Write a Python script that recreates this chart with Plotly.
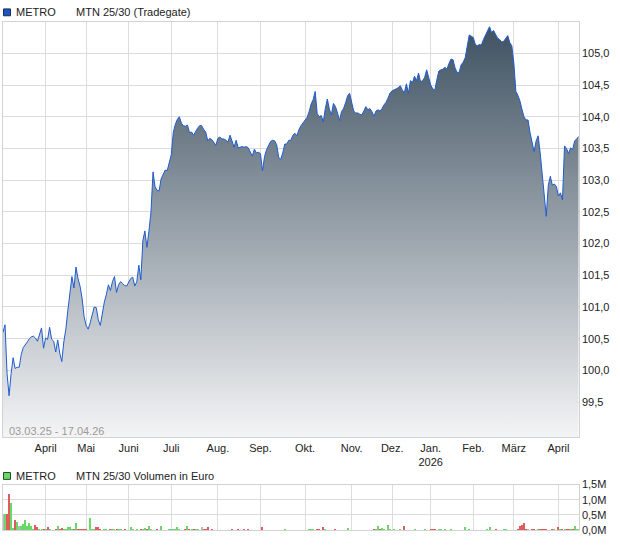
import pandas as pd
import plotly.graph_objects as go

# ---------------- data ----------------
start_date = "2025-03-03"
end_date = "2026-04-17"
holidays = ["2025-04-18", "2025-04-21", "2025-05-01", "2025-12-24", "2025-12-25",
            "2025-12-26", "2025-12-31", "2026-01-01", "2026-04-03", "2026-04-06"]

prices = [
    100.60, 100.72, 99.95, 99.60, 99.95, 100.20, 100.03, 100.05, 100.05, 100.25,
    100.36, 100.40, 100.45, 100.50, 100.53, 100.54, 100.51, 100.46, 100.58, 100.67,
    100.35, 100.51, 100.49, 100.68, 100.49, 100.46, 100.29, 100.48, 100.27, 100.14,
    100.45, 100.65, 100.95, 101.20, 101.48, 101.30, 101.63, 101.45, 101.33, 101.14,
    100.85, 100.71, 100.65, 100.75, 100.90, 101.00, 100.99, 100.80, 100.71, 100.90,
    101.08, 101.20, 101.35, 101.26, 101.40, 101.48, 101.23, 101.35, 101.40, 101.37,
    101.34, 101.33, 101.39, 101.45, 101.47, 101.33, 101.40, 101.66, 101.43, 102.05,
    102.20, 101.94, 102.20, 102.50, 103.13, 102.90, 102.84, 102.83, 103.02, 103.10,
    103.16, 103.15, 103.26, 103.40, 103.75, 103.88, 103.96, 104.00, 103.90, 103.86,
    103.85, 103.87, 103.75, 103.76, 103.71, 103.77, 103.82, 103.86, 103.86, 103.80,
    103.76, 103.62, 103.66, 103.64, 103.60, 103.55, 103.66, 103.68, 103.65, 103.65,
    103.63, 103.60, 103.71, 103.60, 103.52, 103.63, 103.51, 103.52, 103.53, 103.52,
    103.53, 103.51, 103.43, 103.38, 103.49, 103.43, 103.44, 103.42, 103.15, 103.37,
    103.48, 103.55, 103.61, 103.63, 103.62, 103.56, 103.36, 103.33, 103.43, 103.57,
    103.57, 103.63, 103.63, 103.71, 103.74, 103.70, 103.80, 103.86, 103.90, 103.95,
    103.99, 104.08, 104.20, 104.27, 104.40, 104.05, 104.00, 104.02, 103.92, 104.13,
    104.28, 104.12, 104.03, 104.21, 104.16, 104.06, 103.94, 104.08, 104.13, 104.22,
    104.33, 104.37, 104.22, 104.09, 104.06, 104.06, 104.04, 104.03, 104.09, 104.16,
    104.11, 104.13, 104.08, 104.01, 104.09, 104.11, 104.09, 104.13, 104.19, 104.23,
    104.30, 104.38, 104.41, 104.42, 104.44, 104.46, 104.49, 104.42, 104.38, 104.52,
    104.37, 104.57, 104.54, 104.64, 104.57, 104.69, 104.55, 104.57, 104.62, 104.74,
    104.61, 104.50, 104.44, 104.42, 104.58, 104.72, 104.74, 104.75, 104.78, 104.75,
    104.84, 104.91, 104.90, 104.77, 104.70, 104.70, 104.82, 104.86, 104.93, 105.15,
    105.29, 105.27, 105.25, 105.14, 105.12, 105.14, 105.13, 105.22, 105.28, 105.35,
    105.42, 105.33, 105.36, 105.30, 105.24, 105.22, 105.18, 105.19, 105.24, 105.28,
    105.17, 105.12, 104.85, 104.40, 104.34, 104.25, 104.12, 104.00, 103.95, 103.95,
    103.75, 103.58, 103.45, 103.62, 103.70, 103.43, 103.10, 102.80, 102.43, 102.92,
    103.06, 102.92, 102.94, 102.90, 102.75, 102.80, 102.69, 103.54, 103.50, 103.42,
    103.51, 103.48, 103.62, 103.65, 103.69,
]

# traded volume in thousand euro
volumes_k = [
    540, 540, 540, 1220, 920, 100, 350, 280, 140, 170,
    210, 350, 140, 250, 170, 60, 190, 110, 60, 30,
    50, 60, 130, 30, 20, 20, 50, 140, 30, 90,
    30, 50, 130, 130, 40, 50, 250, 60, 60, 30,
    30, 30, 0, 430, 40, 70, 110, 110, 40, 0,
    60, 50, 0, 50, 60, 50, 40, 30, 40, 20,
    30, 0, 0, 110, 30, 20, 30, 0, 60, 30,
    90, 30, 160, 60, 20, 0, 40, 0, 150, 0,
    20, 0, 60, 30, 40, 40, 110, 30, 20, 0,
    40, 160, 40, 30, 60, 60, 50, 0, 110, 30,
    30, 110, 0, 30, 20, 0, 20, 0, 0, 20,
    20, 0, 10, 60, 0, 20, 30, 0, 10, 60,
    0, 30, 10, 0, 20, 10, 0, 0, 130, 10,
    0, 20, 10, 0, 10, 20, 0, 10, 0, 60,
    10, 0, 20, 10, 0, 20, 10, 0, 10, 20,
    0, 30, 30, 40, 0, 40, 30, 0, 110, 40,
    0, 10, 20, 0, 30, 20, 0, 0, 10, 20,
    80, 0, 10, 0, 20, 0, 10, 20, 0, 0,
    10, 0, 0, 30, 50, 140, 30, 90, 50, 0,
    180, 40, 0, 40, 20, 20, 40, 0, 140, 20,
    0, 20, 0, 70, 0, 20, 0, 20, 40, 0,
    0, 40, 40, 40, 0, 40, 30, 20, 30, 20,
    0, 30, 0, 20, 0, 20, 0, 0, 120, 0,
    40, 20, 0, 20, 0, 10, 0, 10, 20, 30,
    110, 0, 20, 30, 20, 0, 10, 60, 60, 0,
    20, 20, 0, 10, 40, 140, 190, 240, 60, 40,
    10, 40, 30, 20, 40, 40, 40, 50, 50, 0,
    20, 30, 30, 0, 130, 50, 40, 40, 40, 30,
    30, 30, 150, 40, 60,
]

month_labels = ["April", "Mai", "Juni", "Juli", "Aug.", "Sep.", "Okt.", "Nov.",
                "Dez.", "Jan.<br>2026", "Feb.", "März", "April"]
price_ticks = [99.5, 100.0, 100.5, 101.0, 101.5, 102.0, 102.5, 103.0, 103.5, 104.0, 104.5, 105.0]
volume_ticks = [0.0, 0.5, 1.0, 1.5]
period_text = "03.03.25 - 17.04.26"

# ---------------- derived ----------------
dates = [d for d in pd.bdate_range(start_date, end_date)
         if d.strftime("%Y-%m-%d") not in holidays]
assert len(dates) == len(prices) == len(volumes_k)

tick_dates = []
seen = {(dates[0].year, dates[0].month)}
for d in dates:
    key = (d.year, d.month)
    if key not in seen:
        seen.add(key)
        tick_dates.append(d)

price_ticktext = [f"{v:.1f}".replace(".", ",") for v in price_ticks]
volume_ticktext = [f"{v:.1f}".replace(".", ",") + "M" for v in volume_ticks]

vol_m = [v / 1000.0 for v in volumes_k]
bar_colors = []
for i, p in enumerate(prices):
    if i == 0 or p == prices[i - 1]:
        bar_colors.append("#b8b8b8")
    elif p > prices[i - 1]:
        bar_colors.append("#66d966")
    else:
        bar_colors.append("#e05c5c")

W, H = 620, 546
def px(x):
    return x / W
def py(y):
    return 1 - y / H

x_dom = [px(3), px(578.7)]
grid = "#dcdcdc"
border = "#d2d2d2"
font_family = "Liberation Sans, Arial, sans-serif"

fig = go.Figure()
fig.add_trace(go.Scatter(
    x=dates, y=prices, mode="lines",
    line=dict(color="#1f5ccf", width=1),
    fill="tozeroy",
    fillgradient=dict(type="vertical",
                      colorscale=[[0, "#f8f8f9"], [1, "#3d5060"]],
                      start=98.945, stop=105.5),
    xaxis="x", yaxis="y", hoverinfo="skip",
))
fig.add_trace(go.Bar(
    x=dates, y=vol_m, marker=dict(color=bar_colors, line=dict(width=0)),
    width=86400000 * 0.5, xaxis="x2", yaxis="y2", hoverinfo="skip",
))

rb = [dict(bounds=["sat", "mon"]), dict(values=holidays)]
axis_common = dict(showgrid=True, gridcolor=grid, gridwidth=1, showline=True,
                   mirror=True, linecolor=border, linewidth=1, zeroline=False,
                   ticks="")

fig.update_layout(
    width=W, height=H,
    margin=dict(l=0, r=0, t=0, b=0),
    paper_bgcolor="white", plot_bgcolor="white",
    showlegend=False,
    bargap=0,
    font=dict(family=font_family, size=11, color="#333333"),
    xaxis=dict(domain=x_dom, anchor="y", type="date",
               range=[dates[0], dates[-1]], rangebreaks=rb,
               tickmode="array", tickvals=tick_dates, ticktext=month_labels,
               tickfont=dict(size=11, color="#222222"), **axis_common),
    yaxis=dict(domain=[py(441), py(16)], anchor="x", side="right",
               range=[98.945, 105.5], tickmode="array", tickvals=price_ticks,
               ticktext=price_ticktext, tickfont=dict(size=11, color="#222222"),
               **axis_common),
    xaxis2=dict(domain=x_dom, anchor="y2", type="date",
                range=[dates[0], dates[-1]], rangebreaks=rb,
                tickmode="array", tickvals=tick_dates, showticklabels=False,
                **axis_common),
    yaxis2=dict(domain=[py(536), py(489.3)], anchor="x2", side="right",
                range=[0, 1.5], tickmode="array", tickvals=volume_ticks,
                ticktext=volume_ticktext,
                tickfont=dict(size=11, color="#222222"), **axis_common),
)

# legend-like headers
fig.add_shape(type="rect", xref="paper", yref="paper",
              x0=px(3.5), x1=px(10.5), y0=py(10), y1=py(3),
              fillcolor="#1f55c0", line=dict(color="#1a2a55", width=1))
fig.add_shape(type="rect", xref="paper", yref="paper",
              x0=px(3.5), x1=px(10.5), y0=py(484), y1=py(477),
              fillcolor="#66d966", line=dict(color="#2a4a2a", width=1))
fig.add_annotation(text="METRO", xref="paper", yref="paper", x=px(14), y=py(6.5),
                   xanchor="left", yanchor="middle", showarrow=False,
                   font=dict(size=11, color="#222222"))
fig.add_annotation(text="MTN 25/30 (Tradegate)", xref="paper", yref="paper",
                   x=px(74), y=py(6.5), xanchor="left", yanchor="middle",
                   showarrow=False, font=dict(size=11, color="#222222"))
fig.add_annotation(text="METRO", xref="paper", yref="paper", x=px(14), y=py(480.5),
                   xanchor="left", yanchor="middle", showarrow=False,
                   font=dict(size=11, color="#222222"))
fig.add_annotation(text="MTN 25/30 Volumen in Euro", xref="paper", yref="paper",
                   x=px(74), y=py(480.5), xanchor="left", yanchor="middle",
                   showarrow=False, font=dict(size=11, color="#222222"))
fig.add_annotation(text=period_text, xref="paper", yref="paper", x=px(6.5), y=py(434.5),
                   xanchor="left", yanchor="middle", showarrow=False,
                   font=dict(size=11, color="#a09a96"))

fig.write_html("out.html", config={"displayModeBar": False},
               post_script="document.body.style.margin='0';")
